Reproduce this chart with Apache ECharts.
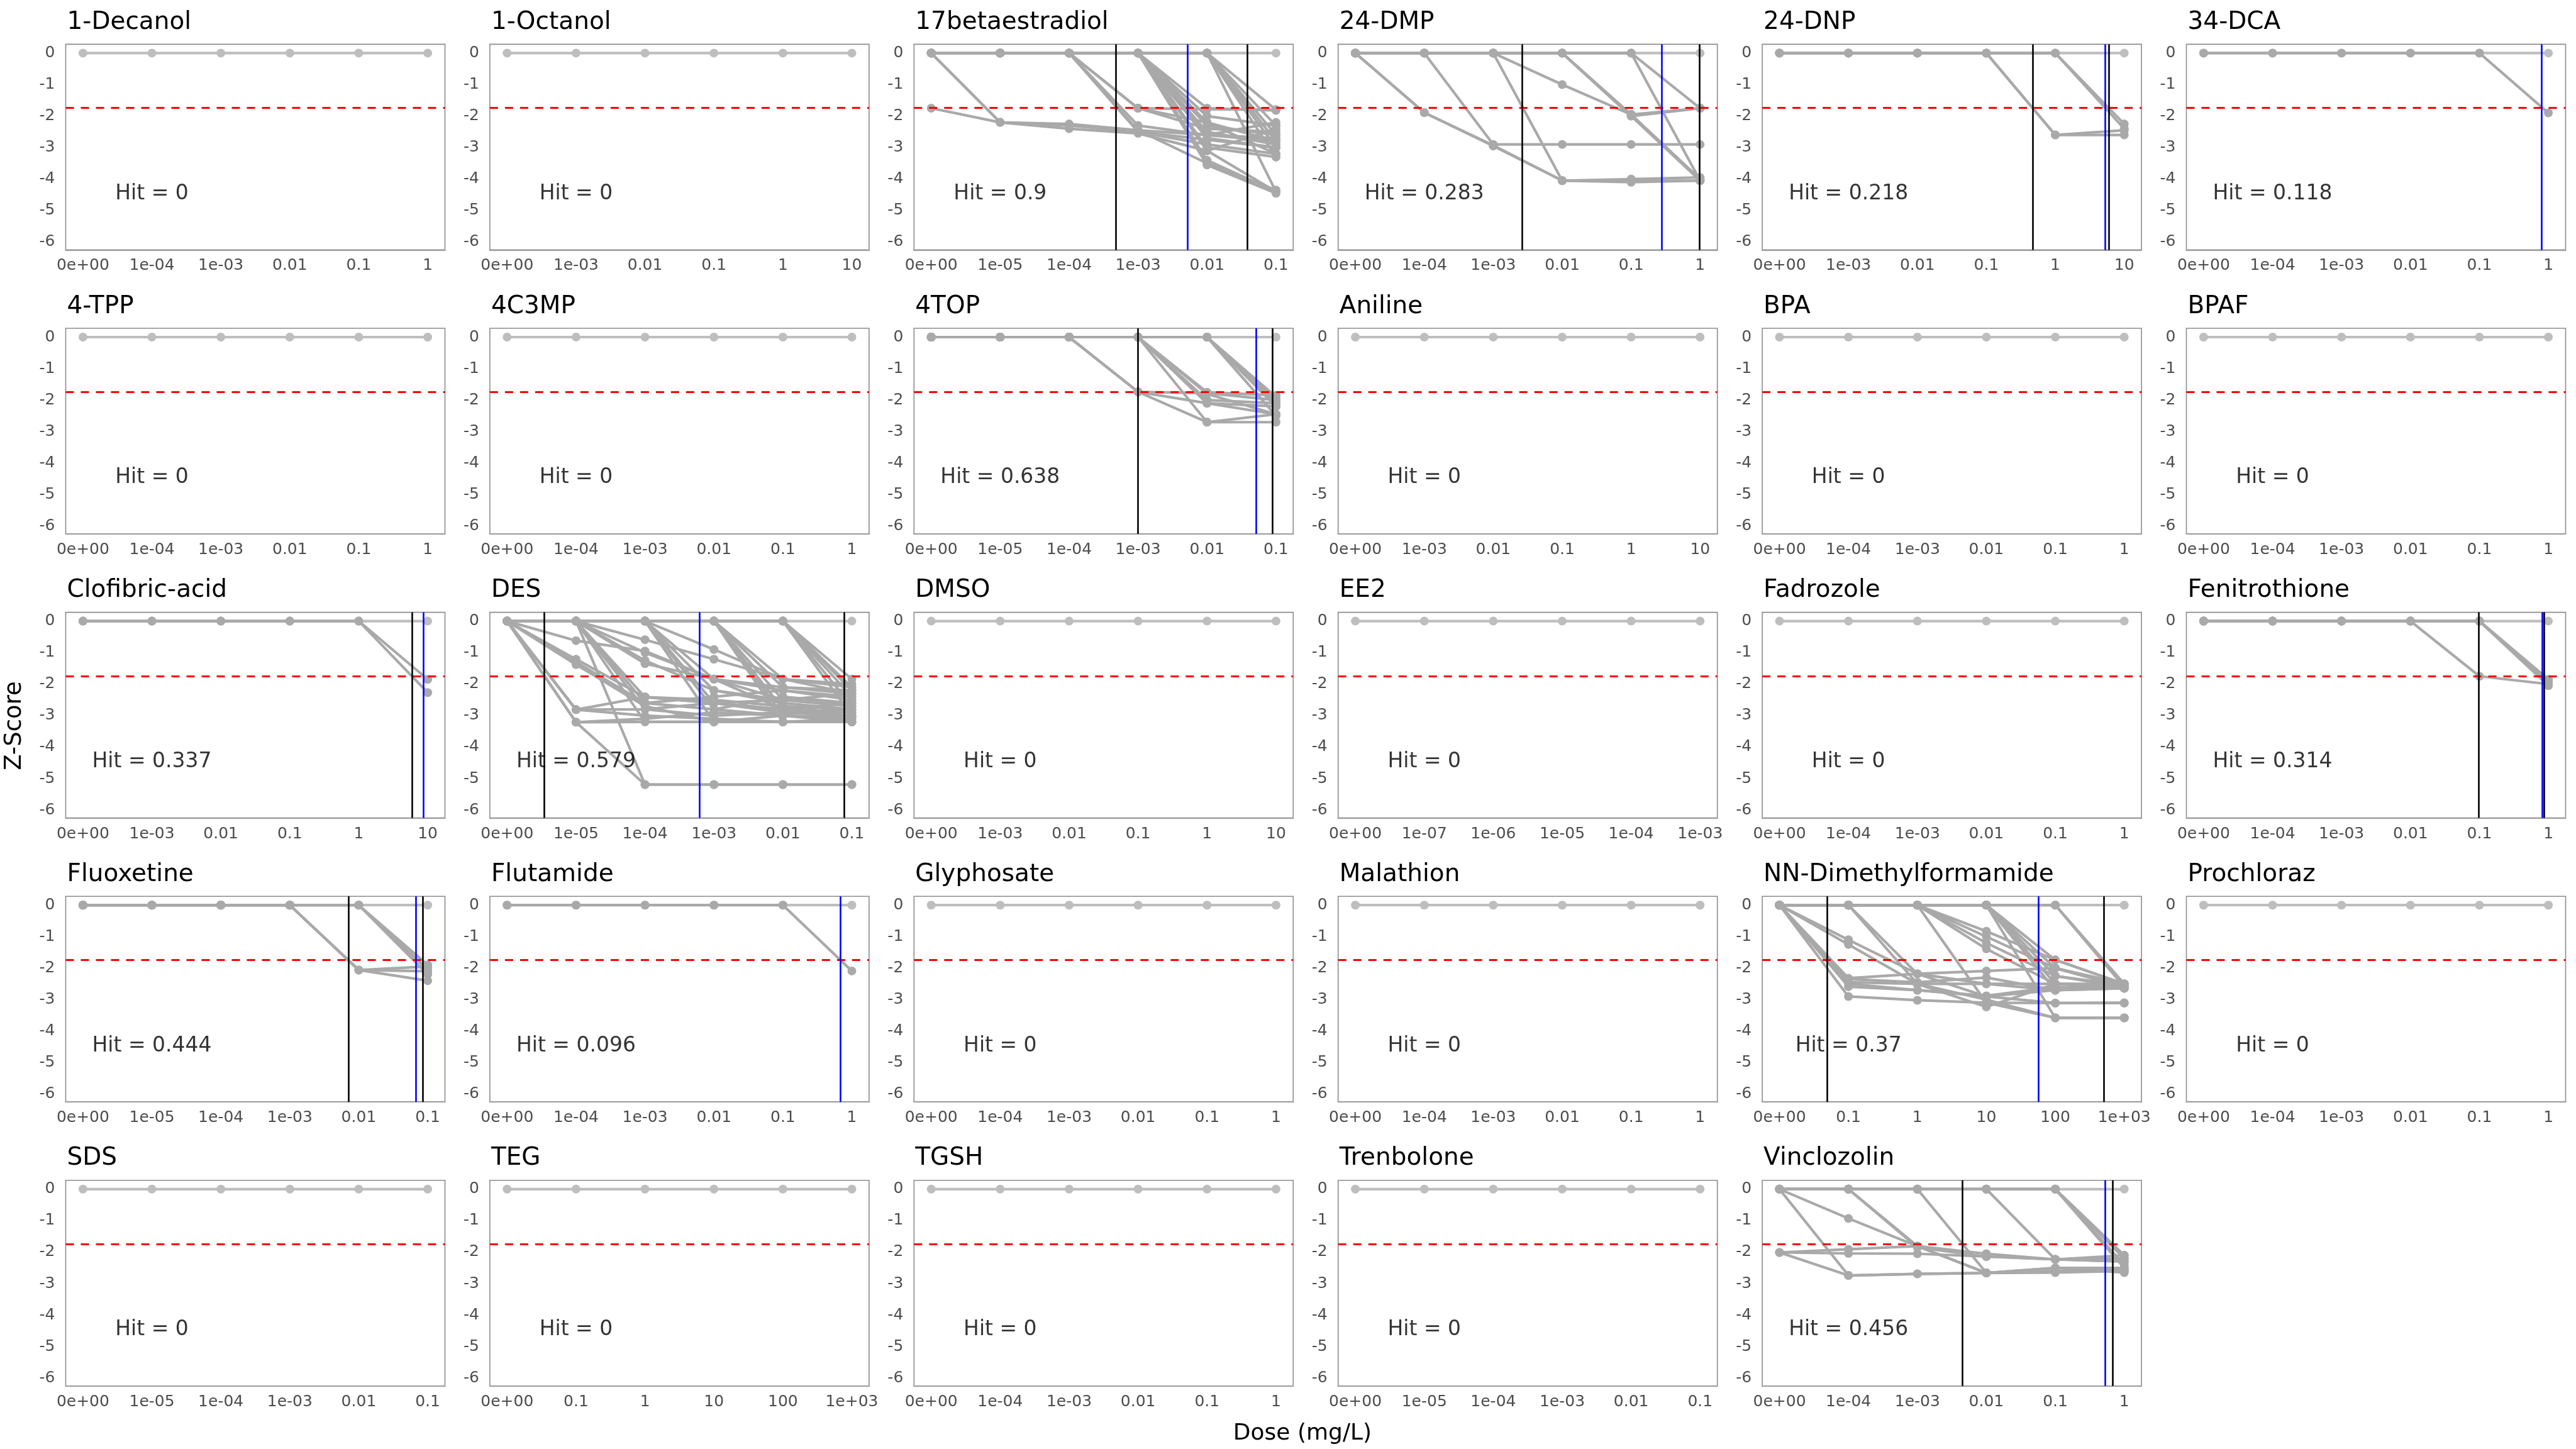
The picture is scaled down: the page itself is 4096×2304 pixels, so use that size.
<!DOCTYPE html>
<html><head><meta charset="utf-8">
<script src="https://cdn.jsdelivr.net/npm/echarts/dist/echarts.min.js"></script>
<style>html,body{margin:0;padding:0;background:#fff}#c{width:4096px;height:2304px}</style>
</head><body><div id="c"></div>
<script>
// ---------------- DATA ----------------
const chemicals = ['1-Decanol','1-Octanol','17betaestradiol','24-DMP','24-DNP','34-DCA',
  '4-TPP','4C3MP','4TOP','Aniline','BPA','BPAF',
  'Clofibric-acid','DES','DMSO','EE2','Fadrozole','Fenitrothione',
  'Fluoxetine','Flutamide','Glyphosate','Malathion','NN-Dimethylformamide','Prochloraz',
  'SDS','TEG','TGSH','Trenbolone','Vinclozolin'];

// dose series (mg/L) and their tick labels
const dosesA = [0, 1e-4, 1e-3, 0.01, 0.1, 1];
const labelsA = ['0e+00','1e-04','1e-03','0.01','0.1','1'];
const dosesB = [0, 1e-3, 0.01, 0.1, 1, 10];
const labelsB = ['0e+00','1e-03','0.01','0.1','1','10'];
const dosesC = [0, 1e-5, 1e-4, 1e-3, 0.01, 0.1];
const labelsC = ['0e+00','1e-05','1e-04','1e-03','0.01','0.1'];
const dosesD = [0, 1e-7, 1e-6, 1e-5, 1e-4, 1e-3];
const labelsD = ['0e+00','1e-07','1e-06','1e-05','1e-04','1e-03'];
const dosesE = [0, 0.1, 1, 10, 100, 1000];
const labelsE = ['0e+00','0.1','1','10','100','1e+03'];
const doseSetOf = ['A','B','C','A','B','A', 'A','A','C','B','A','A', 'B','C','B','D','A','A', 'C','A','A','A','E','A', 'C','E','A','C','A'];

const hitScores = [0,0,0.9,0.283,0.218,0.118, 0,0,0.638,0,0,0, 0.337,0.579,0,0,0,0.314, 0.444,0.096,0,0,0.37,0, 0,0,0,0,0.456];

// benchmark-dose lines (mg/L); null = not drawn
const bmdLower = [null,null,4.84e-4,2.65e-3,0.464,null, null,null,1e-3,null,null,null, 5.94,3.47e-6,null,null,null,0.098, 7.08e-3,null,null,null,0.0493,null, null,null,null,null,4.5e-3];
const bmdValue = [null,null,5.28e-3,0.276,5.19,0.79, null,null,0.0514,null,null,null, 8.79,6.15e-4,null,null,null,0.805, 0.0673,0.673,null,null,57,null, null,null,null,null,0.519];
const bmdUpper = [null,null,0.0379,0.98,6.08,null, null,null,0.0891,null,null,null, null,0.0773,null,null,null,0.863, 0.0843,null,null,null,501,null, null,null,null,null,0.682];

const zThreshold = -1.74;
const flatCurve = [0,0,0,0,0,0];

const curves17betaestradiol = [
 [-1.75,-2.2,-2.3,-2.5,-2.75,-3.0],
 [0,-2.2,-2.25,-2.45,-2.6,-2.8],
 [0,-2.2,-2.4,-2.55,-3.1,-4.4],
 [0,0,0,-2.3,-2.6,-2.7],
 [0,0,0,-2.5,-2.9,-3.2],
 [0,0,0,-1.75,-2.4,-2.5],
 [0,0,0,-2.45,-3.5,-4.35],
 [0,0,0,-1.75,-1.78,-1.8],
 [0,0,0,-1.75,-2.2,-2.8],
 [0,0,0,0,-1.75,-1.82],
 [0,0,0,0,-2.0,-2.3],
 [0,0,0,0,-2.3,-2.6],
 [0,0,0,0,-2.5,-2.9],
 [0,0,0,0,-2.7,-3.0],
 [0,0,0,0,-3.0,-3.3],
 [0,0,0,0,-3.1,-2.4],
 [0,0,0,0,-3.4,-4.4],
 [0,0,0,0,-3.55,-4.45],
 [0,0,0,0,-2.2,-3.2],
 [0,0,0,0,-2.6,-2.2],
 [0,0,0,0,0,-1.8],
 [0,0,0,0,0,-2.3],
 [0,0,0,0,0,-2.6],
 [0,0,0,0,0,-3.0],
 [0,0,0,0,0,-4.4],
 [0,0,0,0,0,-2.8],
 [0,0,0,0,0,-3.3]
];
const curves24DMP = [
 [0,-1.89,-2.93,-4.05,-4.0,-3.95],
 [0,-1.89,-2.95,-4.05,-4.05,-4.05],
 [0,0,-2.9,-2.9,-2.9,-2.9],
 [0,0,0,-4.05,-4.1,-4.05],
 [0,0,0,-1.0,-1.95,-1.75],
 [0,0,0,0,-1.95,-4.0],
 [0,0,0,0,-2.0,-4.05],
 [0,0,0,0,-2.0,-1.75],
 [0,0,0,0,0,-1.75],
 [0,0,0,0,0,-4.05]
];
const curves24DNP = [
 [0,0,0,0,-2.6,-2.6],
 [0,0,0,0,-2.6,-2.45],
 [0,0,0,0,0,-2.25],
 [0,0,0,0,0,-2.4]
];
const curves34DCA = [[0,0,0,0,0,-1.9]];
const curves4TOP = [
 [0,0,0,-1.74,-2.1,-2.45],
 [0,0,0,-1.74,-2.7,-2.45],
 [0,0,0,-1.74,-1.78,-2.0],
 [0,0,0,0,-1.75,-1.85],
 [0,0,0,0,-2.1,-2.2],
 [0,0,0,0,-2.7,-2.7],
 [0,0,0,0,-2.0,-2.1],
 [0,0,0,0,-1.8,-2.45],
 [0,0,0,0,0,-1.9],
 [0,0,0,0,0,-2.1],
 [0,0,0,0,0,-2.0],
 [0,0,0,0,0,-2.5],
 [0,0,0,0,0,-2.2]
];
const curvesClofibric = [[0,0,0,0,0,-1.85],[0,0,0,0,0,-2.27]];
const curvesDES = [
 [0,-0.62,-0.95,-1.84,-2.5,-2.6],
 [0,-1.21,-2.41,-2.6,-2.8,-2.9],
 [0,-1.3,-2.6,-2.8,-3.0,-3.1],
 [0,-1.38,-2.7,-3.2,-3.2,-3.2],
 [0,-2.81,-2.41,-2.5,-2.7,-2.8],
 [0,-2.81,-3.0,-3.1,-3.2,-3.1],
 [0,-3.21,-3.2,-3.2,-3.2,-3.2],
 [0,-3.21,-5.19,-5.19,-5.19,-5.19],
 [0,-3.21,-3.1,-2.9,-3.0,-3.05],
 [0,-2.81,-2.8,-2.6,-2.5,-2.3],
 [0,0,-0.59,-1.21,-1.84,-2.0],
 [0,0,-1.0,-1.84,-2.1,-2.2],
 [0,0,-1.25,-2.2,-2.5,-2.7],
 [0,0,-1.35,-1.84,-2.8,-2.6],
 [0,0,-2.41,-2.6,-2.8,-2.9],
 [0,0,-2.6,-2.4,-2.2,-2.4],
 [0,0,-2.8,-3.0,-2.9,-2.8],
 [0,0,-3.2,-3.2,-3.0,-3.2],
 [0,0,-5.19,-5.19,-5.19,-5.19],
 [0,0,0,-0.9,-1.84,-2.3],
 [0,0,0,-1.84,-2.2,-2.5],
 [0,0,0,-2.2,-2.6,-2.8],
 [0,0,0,-2.6,-2.9,-3.0],
 [0,0,0,-3.2,-3.2,-3.2],
 [0,0,0,-2.8,-2.4,-2.6],
 [0,0,0,0,-1.84,-2.1],
 [0,0,0,0,-2.1,-2.3],
 [0,0,0,0,-2.5,-2.7],
 [0,0,0,0,-2.8,-3.0],
 [0,0,0,0,-3.2,-3.2],
 [0,0,0,0,-3.0,-2.5],
 [0,0,0,0,0,-1.84],
 [0,0,0,0,0,-2.1],
 [0,0,0,0,0,-2.4],
 [0,0,0,0,0,-2.7],
 [0,0,0,0,0,-3.0],
 [0,0,0,0,0,-2.2]
];
const curvesFenitrothione = [
 [0,0,0,0,-1.75,-2.0],
 [0,0,0,0,0,-1.9],
 [0,0,0,0,0,-1.95],
 [0,0,0,0,0,-2.05],
 [0,0,0,0,0,-1.85]
];
const curvesFluoxetine = [
 [0,0,0,0,-2.06,-2.4],
 [0,0,0,0,-2.06,-2.1],
 [0,0,0,0,-2.06,-1.95],
 [0,0,0,0,0,-1.9],
 [0,0,0,0,0,-2.2],
 [0,0,0,0,0,-2.05]
];
const curvesFlutamide = [[0,0,0,0,0,-2.09]];
const curvesDMF = [
 [0,-1.1,-2.18,-2.5,-2.7,-2.64],
 [0,-1.25,-2.5,-3.0,-3.58,-3.58],
 [0,-2.32,-2.18,-2.09,-2.0,-2.5],
 [0,-2.45,-2.5,-2.5,-2.5,-2.55],
 [0,-2.59,-2.7,-2.9,-3.11,-3.11],
 [0,-2.9,-3.02,-3.1,-3.58,-3.58],
 [0,-2.5,-2.7,-2.88,-2.6,-2.64],
 [0,-2.35,-2.45,-2.3,-2.7,-2.6],
 [0,0,-2.5,-3.23,-2.5,-2.5],
 [0,0,-2.18,-2.9,-2.7,-2.6],
 [0,0,0,-0.83,-1.74,-2.5],
 [0,0,0,-1.0,-2.0,-2.6],
 [0,0,0,-1.2,-2.25,-2.55],
 [0,0,0,-1.39,-2.5,-2.64],
 [0,0,0,-3.1,-3.11,-3.1],
 [0,0,0,0,-1.74,-2.5],
 [0,0,0,0,-2.0,-2.6],
 [0,0,0,0,-2.25,-2.6],
 [0,0,0,0,-2.5,-2.55],
 [0,0,0,0,-2.7,-2.64],
 [0,0,0,0,-3.58,-3.58],
 [0,0,0,0,0,-2.5],
 [0,0,0,0,0,-2.6]
];
const curvesVinclozolin = [
 [-2.01,-1.91,-1.81,-2.05,-2.23,-2.1],
 [-2.01,-2.04,-2.05,-2.14,-2.23,-2.2],
 [-2.01,-2.74,-2.69,-2.66,-2.65,-2.6],
 [0,-2.74,-2.69,-2.66,-2.5,-2.65],
 [0,-0.93,-1.81,-2.66,-2.5,-2.5],
 [0,0,-1.81,-2.66,-2.6,-2.55],
 [0,0,-1.85,-2.14,-2.23,-2.3],
 [0,0,0,-2.66,-2.6,-2.6],
 [0,0,0,0,-2.23,-2.3],
 [0,0,0,0,0,-2.1],
 [0,0,0,0,0,-2.2],
 [0,0,0,0,0,-2.5],
 [0,0,0,0,0,-2.4]
];

// ---------------- BUILD ----------------
const doseTables = {A:[dosesA,labelsA], B:[dosesB,labelsB], C:[dosesC,labelsC], D:[dosesD,labelsD], E:[dosesE,labelsE]};
const hitCurvesByName = {
  '17betaestradiol': curves17betaestradiol, '24-DMP': curves24DMP, '24-DNP': curves24DNP,
  '34-DCA': curves34DCA, '4TOP': curves4TOP, 'Clofibric-acid': curvesClofibric, 'DES': curvesDES,
  'Fenitrothione': curvesFenitrothione, 'Fluoxetine': curvesFluoxetine, 'Flutamide': curvesFlutamide,
  'NN-Dimethylformamide': curvesDMF, 'Vinclozolin': curvesVinclozolin
};

const FONT = '"DejaVu Sans", "Liberation Sans", sans-serif';
const gridLeft0 = 104.5, colPitch = 674.4, gridW = 603;
const gridTop0 = 70.4, rowPitch = 451.6, gridH = 327;
const DARK = '#a9a9a9', LIGHT = '#bebebe';

const option = {
  animation: false, backgroundColor: '#ffffff',
  grid: [], xAxis: [], yAxis: [], series: [], title: [],
  graphic: [
    {type:'text', x: 23.5, y: 1154, rotation: Math.PI/2,
     style:{text:'Z-Score', fontSize:37, fontFamily:FONT, fill:'#000', align:'center', verticalAlign:'middle', textAlign:'center', textVerticalAlign:'middle'}},
    {type:'text', x: 2071, y: 2280,
     style:{text:'Dose (mg/L)', fontSize:36, fontFamily:FONT, fill:'#000', align:'center', verticalAlign:'middle', textAlign:'center', textVerticalAlign:'middle'}}
  ]
};

chemicals.forEach((name, i) => {
  const r = Math.floor(i / 6), c = i % 6;
  const left = gridLeft0 + c * colPitch, top = gridTop0 + r * rowPitch;
  const [doses, labels] = doseTables[doseSetOf[i]];
  const xpos = doses.map(d => d > 0 ? Math.log10(d) : Math.log10(doses[1]) - 1);
  const toX = d => Math.log10(d);

  option.grid.push({left, top, width: gridW, height: gridH, show: true,
    borderColor: '#8c8c8c', borderWidth: 1.6, backgroundColor: 'transparent', containLabel: false});
  option.title.push({text: name, left: left + 2, top: top - 54, padding: 0,
    textStyle: {fontSize: 39, fontWeight: 'normal', color: '#000', fontFamily: FONT}});

  option.xAxis.push({type: 'value', gridIndex: i, min: xpos[0] - 0.25, max: xpos[5] + 0.25,
    splitLine: {show: false}, axisTick: {show: false},
    axisLine: {show: true, onZero: false, lineStyle: {color: '#9a9a9a', width: 2}},
    axisLabel: {customValues: xpos, color: '#4d4d4d', fontSize: 25, margin: 13, fontFamily: FONT,
      formatter: v => { let k = 0, best = 1e9; xpos.forEach((p, j) => { if (Math.abs(p - v) < best) { best = Math.abs(p - v); k = j; } }); return labels[k]; }}});
  option.yAxis.push({type: 'value', gridIndex: i, min: -6.25, max: 0.28,
    splitLine: {show: false}, axisTick: {show: false}, axisLine: {show: false},
    axisLabel: {customValues: [0,-1,-2,-3,-4,-5,-6], color: '#4d4d4d', fontSize: 25, margin: 17, fontFamily: FONT,
      formatter: v => String(Math.round(v))}});

  const addCurve = (vals, color) => option.series.push({
    type: 'line', xAxisIndex: i, yAxisIndex: i, silent: true, z: 2,
    data: xpos.map((x, k) => [x, vals[k]]),
    symbol: 'circle', symbolSize: 14, showSymbol: true,
    lineStyle: {color, width: 4.2}, itemStyle: {color, borderWidth: 0}
  });
  addCurve(flatCurve, LIGHT);
  (hitCurvesByName[name] || []).forEach(v => addCurve(v, DARK));

  const ml = [{yAxis: zThreshold, lineStyle: {color: '#ff0000', type: [13, 11], width: 3}}];
  if (bmdLower[i] != null) ml.push({xAxis: toX(bmdLower[i]), lineStyle: {color: '#000000', type: 'solid', width: 2.6}});
  if (bmdValue[i] != null) ml.push({xAxis: toX(bmdValue[i]), lineStyle: {color: '#0000ff', type: 'solid', width: 2.6}});
  if (bmdUpper[i] != null) ml.push({xAxis: toX(bmdUpper[i]), lineStyle: {color: '#000000', type: 'solid', width: 2.6}});

  option.series.push({
    type: 'scatter', xAxisIndex: i, yAxisIndex: i, silent: true, z: 5,
    symbolSize: 0, data: [[xpos[1], -4.47]],
    label: {show: true, position: 'inside', formatter: 'Hit = ' + hitScores[i],
      fontSize: 33, color: '#000000', fontFamily: FONT},
    markLine: {silent: true, symbol: ['none', 'none'], label: {show: false}, animation: false, data: ml}
  });
});

const chart = echarts.init(document.getElementById('c'), null, {renderer: 'canvas', width: 4096, height: 2304});
chart.setOption(option);
</script></body></html>
